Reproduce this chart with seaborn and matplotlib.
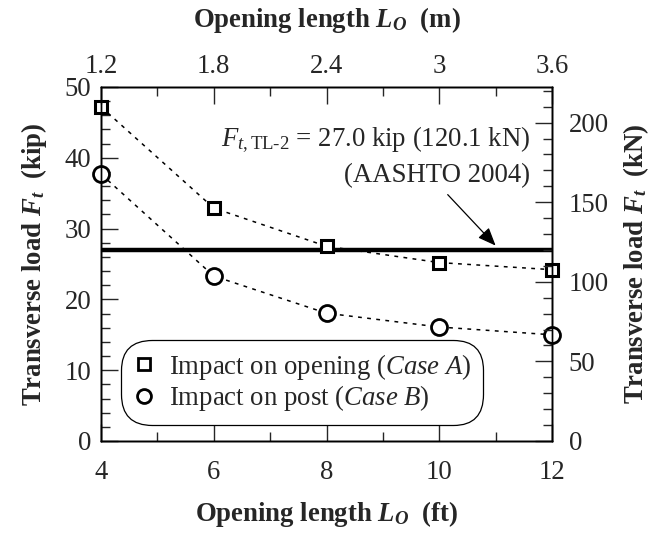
import numpy as np
import seaborn as sns
import matplotlib.pyplot as plt
from matplotlib.lines import Line2D
from matplotlib.ticker import MultipleLocator, FixedLocator

# data
opening_ft = [4, 6, 8, 10, 12]
opening_m_labels = ['1.2', '1.8', '2.4', '3', '3.6']
load_case_a = [47.2, 32.9, 27.5, 25.2, 24.2]   # impact on opening (kip)
load_case_b = [37.7, 23.3, 18.05, 16.1, 15.0]  # impact on post (kip)
tl2_load = 27.0  # kip
KIP_TO_KN = 4.448

sns.set_style('ticks')
plt.rcParams['font.family'] = 'Liberation Serif'
plt.rcParams['mathtext.fontset'] = 'custom'
plt.rcParams['mathtext.rm'] = 'Liberation Serif'
plt.rcParams['mathtext.it'] = 'Liberation Serif:italic'
plt.rcParams['mathtext.bf'] = 'Liberation Serif:bold'
plt.rcParams['mathtext.bfit'] = 'Liberation Serif:bold:italic'

FS = 19.3

fig = plt.figure(figsize=(6.6, 5.35), dpi=100)
ax = fig.add_axes([101 / 660, 94 / 535, 451 / 660, 354 / 535])

dash = (0, (2.5, 3.5))
sns.lineplot(x=opening_ft, y=load_case_a, ax=ax, color='black', lw=1.1,
             linestyle=dash, marker='s', markersize=9, markerfacecolor='white',
             markeredgecolor='black', markeredgewidth=2.2, zorder=4, clip_on=False)
sns.lineplot(x=opening_ft, y=load_case_b, ax=ax, color='black', lw=1.1,
             linestyle=dash, marker='o', markersize=11.5, markerfacecolor='white',
             markeredgecolor='black', markeredgewidth=2.0, zorder=4, clip_on=False)
ax.axhline(tl2_load, color='black', lw=3.2, zorder=3)

ax.set_xlim(4, 12)
ax.set_ylim(0, 50)
ax.xaxis.set_major_locator(MultipleLocator(2))
ax.xaxis.set_minor_locator(MultipleLocator(1))
ax.yaxis.set_major_locator(MultipleLocator(10))
ax.yaxis.set_minor_locator(MultipleLocator(2))
ax.tick_params(which='major', direction='in', length=12, width=1, labelsize=FS,
               top=False, right=False)
ax.tick_params(which='minor', direction='in', length=6.5, width=1,
               top=False, right=False)
ax.tick_params(axis='x', which='major', pad=14)
ax.tick_params(axis='y', which='major', pad=7)

ax.set_xlabel(r'Opening length $\mathbfit{L}_{\mathbfit{O}}$  (ft)',
              fontsize=FS, fontweight='bold', labelpad=10)
ax.set_ylabel(r'Transverse load $\mathbfit{F}_{\mathbfit{t}}$  (kip)',
              fontsize=FS, fontweight='bold', labelpad=11)

# right axis in kN
ax_kn = ax.twinx()
ax_kn.set_ylim(0, 50 * KIP_TO_KN)
ax_kn.yaxis.set_major_locator(MultipleLocator(50))
ax_kn.yaxis.set_minor_locator(MultipleLocator(10))
ax_kn.tick_params(which='major', direction='in', length=12, width=1, labelsize=FS, pad=12)
ax_kn.tick_params(which='minor', direction='in', length=6.5, width=1)
ax_kn.set_ylabel(r'Transverse load $\mathbfit{F}_{\mathbfit{t}}$  (kN)',
                 fontsize=FS, fontweight='bold', labelpad=9)

# top axis in m
ax_m = ax.twiny()
ax_m.set_xlim(4, 12)
ax_m.xaxis.set_major_locator(FixedLocator(opening_ft))
ax_m.set_xticklabels(opening_m_labels)
ax_m.xaxis.set_minor_locator(MultipleLocator(1))
ax_m.tick_params(which='major', direction='in', length=12, width=1, labelsize=FS, pad=6)
ax_m.tick_params(which='minor', direction='in', length=6.5, width=1)
ax_m.set_xlabel(r'Opening length $\mathbfit{L}_{\mathbfit{O}}$  (m)',
                fontsize=FS, fontweight='bold', labelpad=19)

for a in (ax, ax_kn, ax_m):
    for s in a.spines.values():
        s.set_linewidth(1)
        s.set_color('black')

# AASHTO annotation
ax.text(11.61, 42.5, r'$F_{t,\mathrm{TL}\text{-}2}$ = 27.0 kip (120.1 kN)',
        fontsize=FS, ha='right', va='center')
ax.text(11.61, 37.5, '(AASHTO 2004)', fontsize=FS, ha='right', va='center')
ax.annotate('', xy=(11.0, 27.6), xytext=(10.15, 34.8),
            arrowprops=dict(arrowstyle='-|>,head_length=1.1,head_width=0.45',
                            color='black', lw=0.9, shrinkA=0, shrinkB=0))

handles = [
    Line2D([], [], ls='none', marker='s', markersize=8, markerfacecolor='white',
           markeredgecolor='black', markeredgewidth=2.0),
    Line2D([], [], ls='none', marker='o', markersize=10, markerfacecolor='white',
           markeredgecolor='black', markeredgewidth=2.0),
]
labels = [r'Impact on opening ($\it{Case\ A}$)', r'Impact on post ($\it{Case\ B}$)']
leg = ax.legend(handles, labels, loc='lower left', bbox_to_anchor=(0.044, 0.045),
                fontsize=FS, frameon=True, fancybox=True, handlelength=0.8,
                handletextpad=0.55, labelspacing=0.05, borderpad=0.45,
                borderaxespad=0)
frame = leg.get_frame()
frame.set_edgecolor('black')
frame.set_linewidth(0.9)
frame.set_alpha(1)
frame.set_boxstyle('round', pad=0.0, rounding_size=1.15)
leg.set_zorder(5)

fig.savefig('out.png', dpi=100)
